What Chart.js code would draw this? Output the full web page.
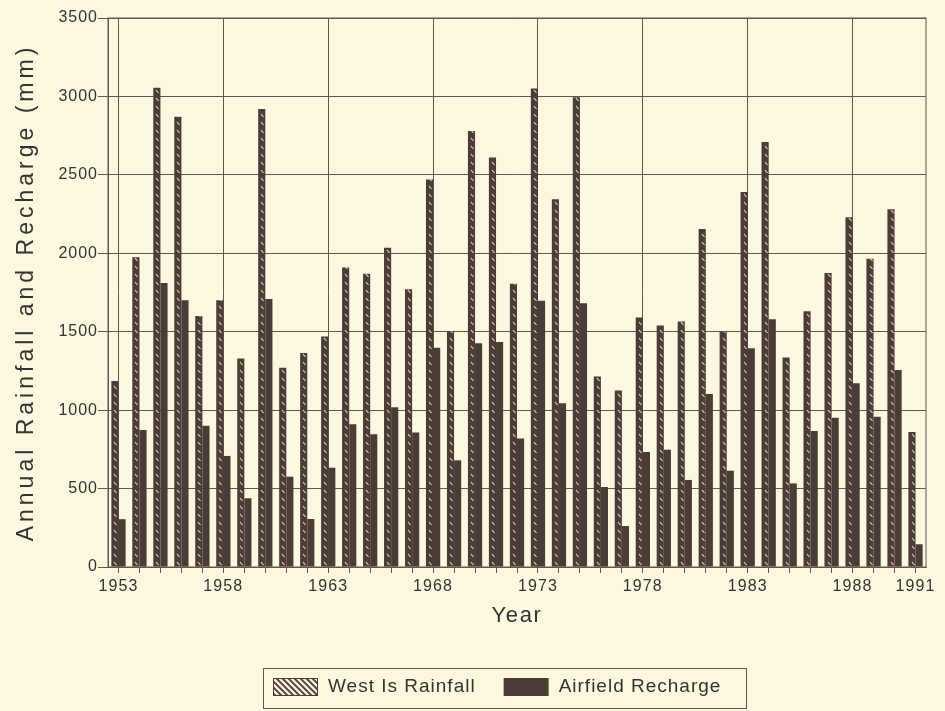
<!DOCTYPE html>
<html>
<head>
<meta charset="utf-8">
<script src="https://cdn.jsdelivr.net/npm/chart.js@4"></script>
<style>
  body { margin: 0; background: #fcf7df; }
  canvas { display: block; }
</style>
</head>
<body>
<canvas id="rainChart" width="945" height="711"></canvas>
<script>
// years 1953 - 1991
const years = [1953, 1954, 1955, 1956, 1957, 1958, 1959, 1960, 1961, 1962,
    1963, 1964, 1965, 1966, 1967, 1968, 1969, 1970, 1971, 1972,
    1973, 1974, 1975, 1976, 1977, 1978, 1979, 1980, 1981, 1982,
    1983, 1984, 1985, 1986, 1987, 1988, 1989, 1990, 1991];
const westIsRainfall = [1185, 1975, 3055, 2870, 1600, 1700, 1330, 2920, 1270, 1365,
    1470, 1910, 1870, 2035, 1770, 2470, 1505, 2780, 2610, 1805,
    3050, 2345, 2995, 1215, 1125, 1590, 1540, 1565, 2155, 1500,
    2390, 2710, 1335, 1630, 1875, 2230, 1965, 2280, 860];
const airfieldRecharge = [305, 873, 1810, 1700, 900, 708, 438, 1709, 576, 306,
    633, 910, 846, 1018, 857, 1398, 680, 1426, 1435, 820,
    1698, 1044, 1681, 510, 261, 733, 748, 555, 1103, 614,
    1394, 1579, 533, 867, 952, 1171, 958, 1256, 145];
const labeledYears = [1953, 1958, 1963, 1968, 1973, 1978, 1983, 1988, 1991];
const legendLabels = ["West Is Rainfall", "Airfield Recharge"];

const barColor = "#4b3c37";
const gridColor = "#5f5753";
const textColor = "#333333";
const fontFamily = "'Liberation Sans', Arial, sans-serif";

function barHatchPattern() {
    const c = document.createElement("canvas");
    c.width = 7;
    c.height = 8;
    const g = c.getContext("2d");
    g.fillStyle = barColor;
    g.fillRect(0, 0, 7, 8);
    g.strokeStyle = "#ece4cc";
    g.lineWidth = 1.1;
    g.beginPath();
    g.moveTo(2, 2);
    g.lineTo(4.5, 5);
    g.stroke();
    return g.createPattern(c, "repeat");
}

// the scanned figure uses loosely tracked lettering
function spaced(fn, spacing) {
    return function (...args) {
        const ctx = this.ctx;
        const prev = ctx.letterSpacing;
        ctx.letterSpacing = spacing;
        fn.apply(this, args);
        ctx.letterSpacing = prev;
    };
}

const tracking = {
    id: "tracking",
    afterUpdate(chart) {
        const { x, y } = chart.scales;
        if (x._tracked) return;
        x.drawLabels = spaced(x.drawLabels, "1.1px");
        y.drawLabels = spaced(y.drawLabels, "1px");
        x.drawTitle = spaced(x.drawTitle, "1.6px");
        y.drawTitle = spaced(y.drawTitle, "4px");
        x._tracked = true;
    }
};

// boxed legend under the axis title
const boxLegend = {
    id: "boxLegend",
    afterDraw(chart) {
        const ctx = chart.ctx;
        ctx.save();
        ctx.font = "19px " + fontFamily;
        ctx.letterSpacing = "1px";
        const boxL = 263, boxT = 668, boxW = 483, boxH = 40;
        ctx.strokeStyle = gridColor;
        ctx.lineWidth = 1;
        ctx.strokeRect(boxL + 0.5, boxT + 0.5, boxW, boxH);
        const swW = 45, swH = 18, gapText = 10, gapItem = 28;
        const w0 = ctx.measureText(legendLabels[0]).width;
        let x = boxL + 10;
        const cy = boxT + 19;
        // hatched swatch
        const sw = document.createElement("canvas");
        sw.width = 6; sw.height = 6;
        const sg = sw.getContext("2d");
        sg.fillStyle = "#f4eedb";
        sg.fillRect(0, 0, 6, 6);
        sg.strokeStyle = barColor;
        sg.lineWidth = 1.8;
        sg.beginPath();
        sg.moveTo(-1, -1); sg.lineTo(7, 7);
        sg.moveTo(-4, 2); sg.lineTo(4, 10);
        sg.moveTo(2, -4); sg.lineTo(10, 4);
        sg.stroke();
        ctx.fillStyle = ctx.createPattern(sw, "repeat");
        ctx.fillRect(x, cy - swH / 2, swW, swH);
        ctx.strokeStyle = barColor;
        ctx.strokeRect(x + 0.5, cy - swH / 2 + 0.5, swW - 1, swH - 1);
        x += swW + gapText;
        ctx.fillStyle = textColor;
        ctx.textBaseline = "middle";
        ctx.fillText(legendLabels[0], x, cy);
        x += w0 + gapItem;
        ctx.fillStyle = barColor;
        ctx.fillRect(x, cy - swH / 2, swW, swH);
        x += swW + gapText;
        ctx.fillStyle = textColor;
        ctx.fillText(legendLabels[1], x, cy);
        ctx.restore();
    }
};

// closes the plot frame on top and right
const plotFrame = {
    id: "plotFrame",
    beforeDatasetsDraw(chart) {
        const a = chart.chartArea;
        const ctx = chart.ctx;
        ctx.save();
        ctx.strokeStyle = gridColor;
        ctx.lineWidth = 1;
        ctx.strokeRect(a.left, a.top, a.right - a.left, a.bottom - a.top);
        ctx.restore();
    }
};

new Chart(document.getElementById("rainChart"), {
    type: "bar",
    data: {
        labels: years,
        datasets: [{
            label: legendLabels[0],
            data: westIsRainfall,
            backgroundColor: barHatchPattern(),
            borderWidth: 0
        }, {
            label: legendLabels[1],
            data: airfieldRecharge,
            backgroundColor: barColor,
            borderWidth: 0
        }]
    },
    options: {
        responsive: false,
        animation: false,
        datasets: {
            bar: { categoryPercentage: 0.68, barPercentage: 1.0 }
        },
        layout: { padding: { left: 0, right: 19, top: 18, bottom: 43 } },
        plugins: {
            legend: { display: false },
            tooltip: { enabled: false }
        },
        scales: {
            x: {
                afterFit(scale) { scale.height = 101; },
                grid: {
                    offset: false,
                    color: c => (c.index % 5 === 0 ? gridColor : "rgba(0,0,0,0)"),
                    tickColor: gridColor,
                    tickLength: 6,
                    lineWidth: 1
                },
                border: { color: gridColor, width: 1 },
                ticks: {
                    autoSkip: false,
                    maxRotation: 0,
                    padding: 4,
                    color: textColor,
                    font: { family: fontFamily, size: 16 },
                    callback(value, i) {
                        const y = years[i];
                        return labeledYears.includes(y) ? String(y) : "";
                    }
                },
                title: {
                    display: true,
                    text: "Year",
                    color: textColor,
                    font: { family: fontFamily, size: 22 },
                    padding: { top: 0, bottom: 39 }
                }
            },
            y: {
                min: 0,
                max: 3500,
                afterFit(scale) { scale.width = 108; },
                grid: {
                    color: gridColor,
                    tickColor: gridColor,
                    tickLength: 10,
                    lineWidth: 1
                },
                border: { color: gridColor, width: 1 },
                ticks: {
                    stepSize: 500,
                    padding: 0,
                    color: textColor,
                    font: { family: fontFamily, size: 16 },
                    callback: value => String(value)
                },
                title: {
                    display: true,
                    text: "Annual Rainfall and Recharge (mm)",
                    color: textColor,
                    font: { family: fontFamily, size: 23 },
                    padding: { top: 13, bottom: 0 }
                }
            }
        }
    },
    plugins: [tracking, plotFrame, boxLegend]
});
</script>
</body>
</html>
